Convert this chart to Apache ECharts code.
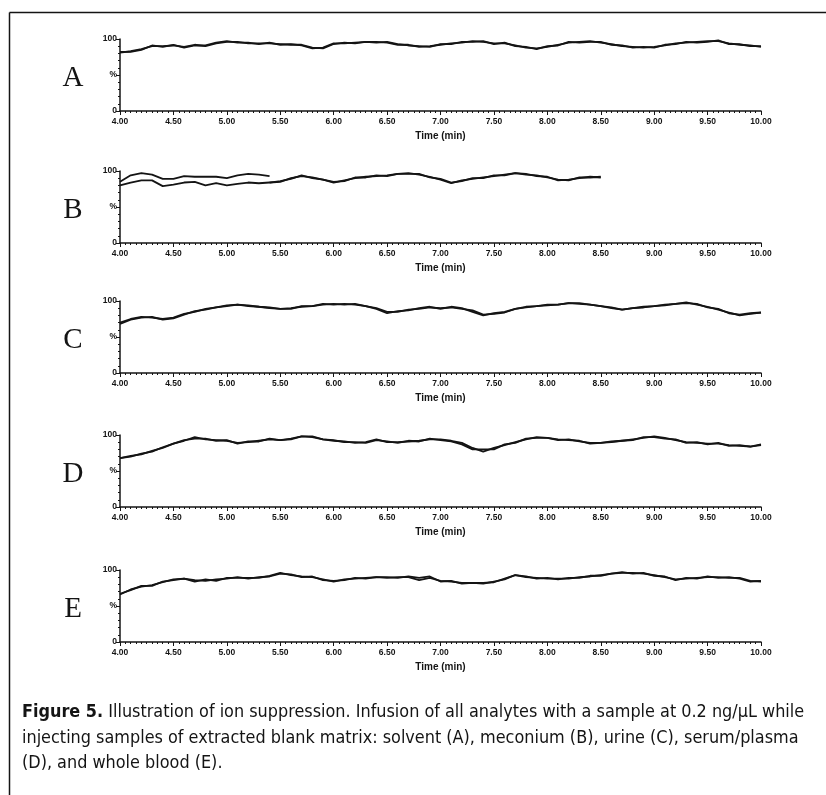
<!DOCTYPE html>
<html>
<head>
<meta charset="utf-8">
<script src="https://cdn.jsdelivr.net/npm/echarts@6/dist/echarts.min.js"></script>
<style>
html,body{margin:0;padding:0;background:#fff;}
#chart{width:826px;height:795px;}
</style>
</head>
<body>
<div id="chart"></div>
<script>
// ---- data (retention time in min, relative signal in %) ----
const times = [4.0,4.1,4.2,4.3,4.4,4.5,4.6,4.7,4.8,4.9,5.0,5.1,5.2,5.3,5.4,5.5,5.6,5.7,5.8,5.9,
  6.0,6.1,6.2,6.3,6.4,6.5,6.6,6.7,6.8,6.9,7.0,7.1,7.2,7.3,7.4,7.5,7.6,7.7,7.8,7.9,
  8.0,8.1,8.2,8.3,8.4,8.5,8.6,8.7,8.8,8.9,9.0,9.1,9.2,9.3,9.4,9.5,9.6,9.7,9.8,9.9,10.0];

const panelLetters = ['A','B','C','D','E'];
const xTickLabels = ['4.00','4.50','5.00','5.50','6.00','6.50','7.00','7.50','8.00','8.50','9.00','9.50','10.00'];
const yTickLabels = ['0','%','100'];
const xAxisTitle = 'Time (min)';

const solventA1 = [82,82,85,91,89,92,88,91,91,95,97,95,95,93,95,92,93,91,87,88,
  94,94,95,96,96,95,92,92,89,90,92,94,95,97,96,94,94,91,88,87,
  89,92,95,96,97,95,93,90,89,88,89,91,94,95,96,97,97,94,92,91,89];
const solventA2 = [81,83,86,90,90,91,89,92,90,94,96,96,94,94,94,93,92,92,88,87,
  93,95,94,96,95,96,93,91,90,89,93,93,96,96,97,93,95,90,89,86,
  90,91,96,95,96,96,92,91,88,89,88,92,93,96,95,96,98,93,93,90,90];

const meconiumB1 = [80,84,87,87,79,81,84,85,80,83,80,82,84,83,84,85,90,93,91,88,
  84,87,90,92,93,94,96,97,95,92,88,83,87,89,91,93,95,97,95,94,
  91,88,87,91,91,92,null,null,null,null,null,null,null,null,null,null,null,null,null,null,null];
const meconiumB2 = [85,94,97,95,89,89,93,92,92,92,90,94,96,95,93,null,null,null,null,null,
  null,null,null,null,null,null,null,null,null,null,null,null,null,null,null,null,null,null,null,null,
  null,null,null,null,null,null,null,null,null,null,null,null,null,null,null,null,null,null,null,null,null];
const meconiumB3 = [null,null,null,null,null,null,null,null,null,null,null,null,null,null,84,86,89,94,90,88,
  85,86,91,91,94,93,96,96,96,91,89,84,86,90,90,94,94,97,96,93,
  92,87,88,90,92,91,null,null,null,null,null,null,null,null,null,null,null,null,null,null,null];

const urineC1 = [70,75,78,77,75,77,82,85,89,91,93,95,94,92,91,89,90,92,93,96,
  95,96,95,93,90,85,85,88,89,91,90,91,89,87,81,82,84,89,91,93,
  94,95,97,97,95,93,90,88,90,92,93,95,96,98,95,92,88,84,80,82,84];
const urineC2 = [68,74,77,78,74,76,81,86,88,91,94,95,93,92,90,89,89,93,93,95,
  96,95,96,93,89,83,86,87,90,92,89,92,90,85,80,83,85,89,92,93,
  95,95,97,96,95,93,91,88,90,91,93,94,96,97,96,91,89,83,81,83,84];

const serumD1 = [68,70,74,77,83,88,92,97,94,93,92,89,90,92,94,93,95,98,98,94,
  92,91,89,90,94,90,90,91,92,94,94,92,89,82,77,82,86,90,94,97,
  96,94,93,92,88,89,90,92,94,96,98,96,93,90,89,88,88,86,85,84,87];
const serumD2 = [68,71,73,78,82,88,93,95,95,92,93,88,91,91,95,93,94,98,97,94,
  93,90,90,89,93,91,89,92,91,95,93,91,87,80,80,80,87,89,95,96,
  96,93,94,91,89,89,91,92,93,97,97,95,94,89,90,87,89,85,86,84,86];

const bloodE1 = [66,73,77,79,83,87,88,84,87,85,89,89,89,89,92,96,93,91,90,87,
  84,87,88,89,90,89,90,90,86,89,85,84,82,82,82,83,88,93,90,89,
  88,88,88,90,91,93,95,96,96,95,93,90,87,88,89,90,90,89,89,85,84];
const bloodE2 = [67,72,78,78,84,86,88,86,85,87,88,90,88,90,91,95,94,90,91,86,
  85,86,89,88,90,90,89,91,89,91,84,85,81,82,81,84,87,93,91,88,
  89,87,89,89,92,92,95,97,95,96,92,91,86,89,88,91,89,90,88,84,85];

const captionLines = [
  [{b:'Figure 5.'},' Illustration of ion suppression. Infusion of all analytes with a sample at 0.2 ng/\u03bcL while'],
  ['injecting samples of extracted blank matrix: solvent (A), meconium (B), urine (C), serum/plasma'],
  ['(D), and whole blood (E).']
];

// ---- layout ----
const panelSeries = [
  [solventA1, solventA2],
  [meconiumB1, meconiumB2, meconiumB3],
  [urineC1, urineC2],
  [serumD1, serumD2],
  [bloodE1, bloodE2]
];
const gridTops = [39, 171, 301, 435, 570];
const gridH = 72, gridLeft = 120, gridRight = 65;
const ink = '#141414';

function pairs(vals){
  const out = [];
  for (let i = 0; i < times.length; i++) if (vals[i] != null) out.push([times[i], vals[i]]);
  return out;
}

const grids = [], xAxes = [], yAxes = [], series = [], graphics = [];
gridTops.forEach((top, i) => {
  grids.push({left: gridLeft, right: gridRight, top: top, height: gridH});
  xAxes.push({
    type: 'value', gridIndex: i, min: 4, max: 10, interval: 0.5,
    name: xAxisTitle, nameLocation: 'middle', nameGap: 20,
    nameTextStyle: {fontFamily: 'Liberation Sans', fontWeight: 'bold', fontSize: 10, color: ink},
    axisLine: {lineStyle: {color: ink, width: 1.5}},
    axisTick: {length: 4, lineStyle: {color: ink, width: 1}},
    minorTick: {show: true, splitNumber: 10, length: 2, lineStyle: {color: ink, width: 1}},
    splitLine: {show: false},
    axisLabel: {
      margin: 6, fontFamily: 'Liberation Sans', fontWeight: 'bold', fontSize: 8.5, color: ink,
      formatter: v => { const k = Math.round((v - 4) / 0.5); return xTickLabels[k] !== undefined ? xTickLabels[k] : ''; }
    }
  });
  yAxes.push({
    type: 'value', gridIndex: i, min: 0, max: 100, interval: 50,
    axisLine: {show: true, lineStyle: {color: ink, width: 1.5}},
    axisTick: {show: true, length: 4, lineStyle: {color: ink}},
    minorTick: {show: true, splitNumber: 5, length: 2, lineStyle: {color: ink}},
    splitLine: {show: false},
    axisLabel: {
      margin: 3, fontFamily: 'Liberation Sans', fontWeight: 'bold', fontSize: 8.5, color: ink,
      formatter: v => yTickLabels[Math.round(v / 50)]
    }
  });
  panelSeries[i].forEach(vals => {
    series.push({
      type: 'line', xAxisIndex: i, yAxisIndex: i, data: pairs(vals),
      showSymbol: false, symbol: 'none', silent: true, animation: false,
      lineStyle: {color: ink, width: 1.8}
    });
  });
  graphics.push({
    type: 'text',
    x: 73, y: top + 39,
    style: {text: panelLetters[i], font: '29px "Liberation Serif", "DejaVu Serif", serif',
      fill: ink, textAlign: 'center', textVerticalAlign: 'middle'}
  });
});

// frame
graphics.push({type: 'line', shape: {x1: 9.5, y1: 12.5, x2: 826, y2: 12.5}, style: {stroke: ink, lineWidth: 1.5}});
graphics.push({type: 'line', shape: {x1: 9.5, y1: 12.5, x2: 9.5, y2: 795}, style: {stroke: ink, lineWidth: 1.5}});

// caption font size fitted to the reference line width
const capFamily = '"Liberation Sans Narrow", "DejaVu Sans Condensed", "Open Sans", sans-serif';
const cnv = document.createElement('canvas').getContext('2d');
cnv.font = 'bold 17px ' + capFamily;
let w1 = cnv.measureText('Figure 5.').width;
cnv.font = '17px ' + capFamily;
w1 += cnv.measureText(captionLines[0][1]).width;
let capSize = 17 * 783 / w1;
capSize = Math.max(12, Math.min(19, capSize));

const capY = [712, 738, 763];
captionLines.forEach((parts, k) => {
  const text = parts.map(p => typeof p === 'string' ? p : '{b|' + p.b + '}').join('');
  graphics.push({
    type: 'text', x: 22, y: capY[k],
    style: {
      text: text, fontFamily: capFamily, fontSize: capSize, fill: ink,
      textVerticalAlign: 'middle', verticalAlign: 'middle',
      rich: {b: {fontWeight: 'bold', fontFamily: capFamily, fontSize: capSize, fill: ink, color: ink}}
    }
  });
});

const chart = echarts.init(document.getElementById('chart'), null, {renderer: 'canvas'});
chart.setOption({
  backgroundColor: '#fff',
  animation: false,
  grid: grids, xAxis: xAxes, yAxis: yAxes, series: series,
  graphic: graphics
});
</script>
</body>
</html>
